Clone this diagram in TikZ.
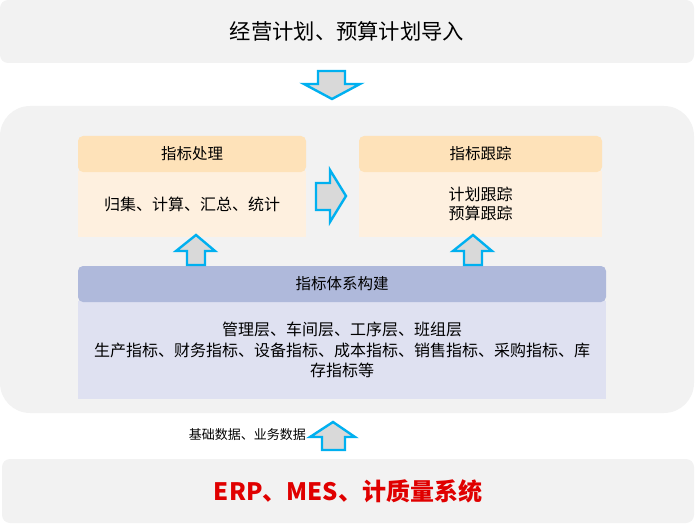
\documentclass[tikz,border=0pt]{standalone}
\usepackage{fontspec}
\setmainfont{Noto Sans CJK SC}
\definecolor{bandgray}{HTML}{F2F2F2}
\definecolor{hdrorange}{HTML}{FEE2B9}
\definecolor{bodyorange}{HTML}{FEF0DF}
\definecolor{hdrblue}{HTML}{AFB9DB}
\definecolor{bodyblue}{HTML}{DFE1F1}
\definecolor{arrowblue}{HTML}{00B0F0}
\definecolor{arrowfill}{HTML}{D9D9D9}
\definecolor{ered}{HTML}{E00000}
\begin{document}
\begin{tikzpicture}[x=1pt,y=-1pt,
  box/.style={inner sep=0pt, outer sep=0pt, anchor=north west, text=black},
  band/.style={box, fill=bandgray, rounded corners=8pt},
  hdr/.style={box, rounded corners=5pt, font=\fontsize{15.5}{18}\selectfont},
  bodytxt/.style={box, align=center, font=\fontsize{16}{20}\selectfont},
  blockarrow/.style={draw=arrowblue, fill=arrowfill, line width=2.4pt, line join=miter}
]
\useasboundingbox (0,0) rectangle (696,524);
% bands
\node[band, minimum width=694pt, minimum height=63pt, font=\fontsize{21.3}{24}\selectfont] (top) at (0,0) {经营计划、预算计划导入};
\node[band, minimum width=694pt, minimum height=307pt, rounded corners=30pt] (mid) at (0,106) {};
\node[band, minimum width=692pt, minimum height=64pt, font=\fontsize{24}{28}\selectfont\bfseries, text=ered] (bot) at (2,459) {ERP、MES、计质量系统};
% 指标处理
\node[bodytxt, fill=bodyorange, minimum width=228pt, minimum height=66pt] (procbody) at (78,171) {归集、计算、汇总、统计};
\node[hdr, fill=hdrorange, minimum width=228pt, minimum height=36pt] (prochdr) at (78,136) {指标处理};
% 指标跟踪
\node[bodytxt, fill=bodyorange, minimum width=243pt, minimum height=66pt, font=\fontsize{16}{19.5}\selectfont] (trackbody) at (359,171) {计划跟踪\\预算跟踪};
\node[hdr, fill=hdrorange, minimum width=243pt, minimum height=36pt] (trackhdr) at (359,136) {指标跟踪};
% 指标体系构建
\node[bodytxt, fill=bodyblue, minimum width=528pt, minimum height=98pt, font=\fontsize{16}{20.5}\selectfont] (sysbody) at (78,301) {管理层、车间层、工序层、班组层\\生产指标、财务指标、设备指标、成本指标、销售指标、采购指标、库\\存指标等};
\node[hdr, fill=hdrblue, minimum width=528pt, minimum height=36pt] (syshdr) at (78,266) {指标体系构建};
% label
\node[inner sep=0pt, anchor=east, font=\fontsize{13}{15}\selectfont] (lbl) at (306,435) {基础数据、业务数据};
% arrows
\draw[blockarrow] (318,71) -- (345,71) -- (345,84) -- (360,84) -- (332,99) -- (304,84) -- (318,84) -- cycle;
\draw[blockarrow] (316,183) -- (330,183) -- (330,170) -- (346,196) -- (330,222) -- (330,210) -- (316,210) -- cycle;
\draw[blockarrow] (187,265) -- (187,251) -- (176,251) -- (196,235) -- (215,251) -- (205,251) -- (205,265) -- cycle;
\draw[blockarrow] (464,265) -- (464,251) -- (453,251) -- (473,235) -- (492,251) -- (482,251) -- (482,265) -- cycle;
\draw[blockarrow] (322,450) -- (322,437) -- (310,437) -- (333,422) -- (355,437) -- (345,437) -- (345,450) -- cycle;
\end{tikzpicture}
\end{document}
